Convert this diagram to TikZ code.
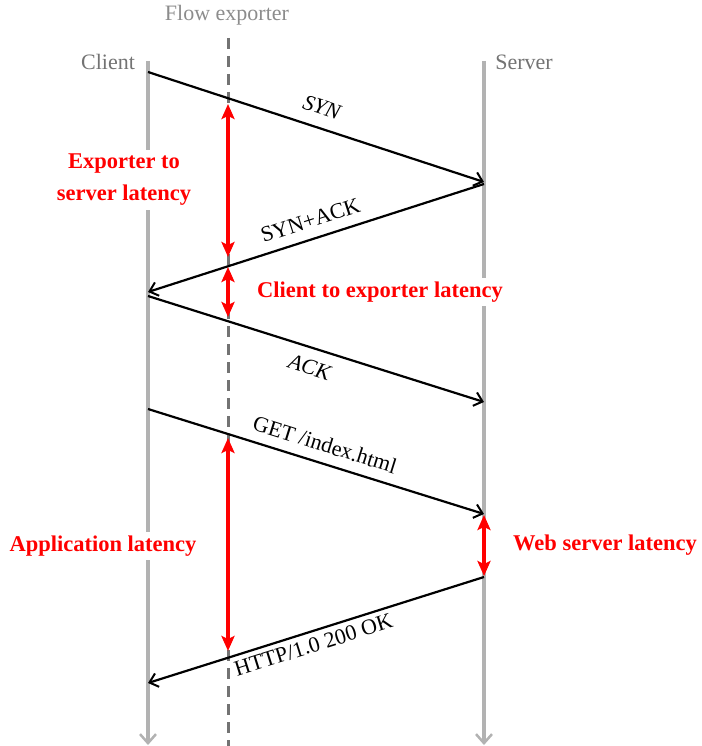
\documentclass[tikz,border=0pt]{standalone}
\usepackage{fontspec}
\setmainfont{Liberation Serif}
\usetikzlibrary{arrows.meta}
\begin{document}
\begin{tikzpicture}[x=1pt,y=-1pt,
  every node/.style={font=\fontsize{22pt}{30pt}\selectfont},
  life/.style={draw=black!30, line width=4pt, -{Straight Barb[length=9pt,width=16pt,line width=2.5pt]}},
  exline/.style={draw=black!55, line width=3pt, dash pattern=on 11pt off 7pt},
  msg/.style={draw=black, line width=2.2pt, -{Straight Barb[length=8pt,width=14pt,line width=2pt]}},
  lat/.style={draw=red, line width=3.2pt, {Stealth[length=15pt,width=13pt,inset=3pt]}-{Stealth[length=15pt,width=13pt,inset=3pt]}},
  latlbl/.style={text=red, font=\fontsize{22.5pt}{32pt}\selectfont\bfseries, fill=white, inner sep=4pt, align=center},
  actor/.style={text=black!55, inner sep=0pt},
  msglbl/.style={text=black, inner sep=2pt}
]
\useasboundingbox (0,0) rectangle (701,746);

% lifelines
\coordinate (c0) at (148,61);  \coordinate (c1) at (148,745);
\coordinate (s0) at (484,61);  \coordinate (s1) at (484,745);
\coordinate (e0) at (228,38);  \coordinate (e1) at (228,746);
\draw[life] (c0) -- (c1);
\draw[life] (s0) -- (s1);
\draw[exline] (e0) -- (e1);

\node[actor, text=black!45] (fe) at (227,15) {Flow exporter};
\node[actor] (cl) at (108,62) {Client};
\node[actor] (sv) at (524,62) {Server};

% latency labels (white background breaks lifelines)
\node[latlbl] (l1) at (124,180) {Exporter to\\server latency};
\node[latlbl] (l2) at (380,292) {Client to exporter latency};
\node[latlbl] (l3) at (103,546) {Application latency};
\node[latlbl] (l4) at (605,545) {Web server latency};

% message endpoints
\coordinate (m1a) at (148,72);  \coordinate (m1b) at (484,182);
\coordinate (m2a) at (484,184); \coordinate (m2b) at (148,292);
\coordinate (m3a) at (148,296); \coordinate (m3b) at (484,402);
\coordinate (m4a) at (148,409); \coordinate (m4b) at (484,514);
\coordinate (m5a) at (484,577); \coordinate (m5b) at (148,683);

\draw[msg] (m1a) -- (m1b) node[msglbl, midway, sloped, above=10pt] {\textit{SYN}};
\draw[msg] (m2a) -- (m2b) node[msglbl, pos=0.5, sloped, above=8pt] {SYN+ACK};
\draw[msg] (m3a) -- (m3b) node[msglbl, pos=0.5, sloped, below=9pt] {\textit{ACK}};
\draw[msg] (m4a) -- (m4b) node[msglbl, pos=0.51, sloped, above=8pt] {GET /index.html};
\draw[msg] (m5a) -- (m5b) node[msglbl, pos=0.52, sloped, below=3pt] {HTTP/1.0 200 OK};

% latency arrows
\coordinate (r1a) at (228,104); \coordinate (r1b) at (228,257);
\coordinate (r2a) at (228,267); \coordinate (r2b) at (228,317);
\coordinate (r3a) at (228,438); \coordinate (r3b) at (228,651);
\coordinate (r4a) at (484,515); \coordinate (r4b) at (484,576);
\draw[lat] (r1a) -- (r1b);
\draw[lat] (r2a) -- (r2b);
\draw[lat] (r3a) -- (r3b);
\draw[lat] (r4a) -- (r4b);
\end{tikzpicture}
\end{document}
